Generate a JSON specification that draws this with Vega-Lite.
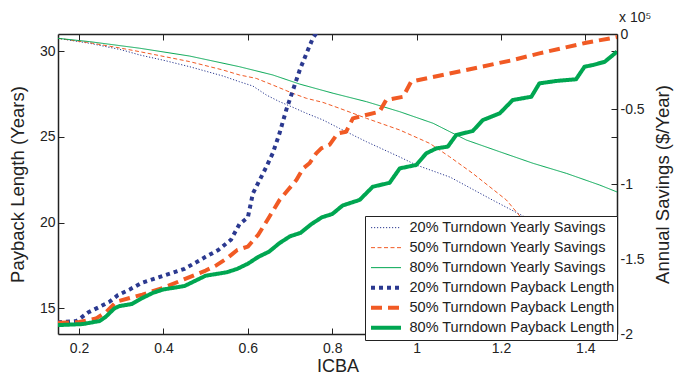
{
  "$schema": "https://vega.github.io/schema/vega-lite/v6.json",
  "width": 559,
  "height": 300,
  "autosize": {"type": "none"},
  "padding": {"left": 58, "top": 34, "right": 58, "bottom": 42},
  "background": "white",
  "config": {
    "font": "Liberation Sans",
    "view": {"stroke": null},
    "axis": {
      "grid": false,
      "domainColor": "#222222",
      "domainWidth": 1.5,
      "tickColor": "#222222",
      "tickWidth": 1,
      "tickSize": -6,
      "labelFont": "Liberation Sans",
      "labelFontSize": 14,
      "labelColor": "#222222",
      "labelPadding": 9,
      "titleFont": "Liberation Sans",
      "titleFontSize": 18.5,
      "titleFontWeight": "normal",
      "titleColor": "#222222"
    }
  },
  "title": {
    "text": "x 10⁵",
    "orient": "top",
    "anchor": "start",
    "frame": "group",
    "align": "left",
    "dx": 561,
    "offset": -18,
    "baseline": "alphabetic",
    "font": "Liberation Sans",
    "fontSize": 14,
    "fontWeight": "normal",
    "color": "#222222"
  },
  "datasets": {
    "savings": [
      {"series": "20% Turndown Yearly Savings", "icba": 0.15, "savings": -2900},
      {"series": "20% Turndown Yearly Savings", "icba": 0.225, "savings": -6200},
      {"series": "20% Turndown Yearly Savings", "icba": 0.3, "savings": -10500},
      {"series": "20% Turndown Yearly Savings", "icba": 0.344, "savings": -14000},
      {"series": "20% Turndown Yearly Savings", "icba": 0.4, "savings": -17500},
      {"series": "20% Turndown Yearly Savings", "icba": 0.462, "savings": -21800},
      {"series": "20% Turndown Yearly Savings", "icba": 0.541, "savings": -28000},
      {"series": "20% Turndown Yearly Savings", "icba": 0.58, "savings": -31800},
      {"series": "20% Turndown Yearly Savings", "icba": 0.612, "savings": -34700},
      {"series": "20% Turndown Yearly Savings", "icba": 0.644, "savings": -40700},
      {"series": "20% Turndown Yearly Savings", "icba": 0.675, "savings": -45100},
      {"series": "20% Turndown Yearly Savings", "icba": 0.707, "savings": -48900},
      {"series": "20% Turndown Yearly Savings", "icba": 0.739, "savings": -52900},
      {"series": "20% Turndown Yearly Savings", "icba": 0.778, "savings": -57300},
      {"series": "20% Turndown Yearly Savings", "icba": 0.817, "savings": -62900},
      {"series": "20% Turndown Yearly Savings", "icba": 0.881, "savings": -71800},
      {"series": "20% Turndown Yearly Savings", "icba": 0.96, "savings": -82000},
      {"series": "20% Turndown Yearly Savings", "icba": 0.999, "savings": -87300},
      {"series": "20% Turndown Yearly Savings", "icba": 1.08, "savings": -95500},
      {"series": "20% Turndown Yearly Savings", "icba": 1.18, "savings": -110700},
      {"series": "20% Turndown Yearly Savings", "icba": 1.25, "savings": -121000},
      {"series": "20% Turndown Yearly Savings", "icba": 1.35, "savings": -137000},
      {"series": "20% Turndown Yearly Savings", "icba": 1.475, "savings": -158000},
      {"series": "50% Turndown Yearly Savings", "icba": 0.15, "savings": -2900},
      {"series": "50% Turndown Yearly Savings", "icba": 0.225, "savings": -5800},
      {"series": "50% Turndown Yearly Savings", "icba": 0.3, "savings": -9500},
      {"series": "50% Turndown Yearly Savings", "icba": 0.344, "savings": -11800},
      {"series": "50% Turndown Yearly Savings", "icba": 0.462, "savings": -18400},
      {"series": "50% Turndown Yearly Savings", "icba": 0.541, "savings": -24000},
      {"series": "50% Turndown Yearly Savings", "icba": 0.58, "savings": -27300},
      {"series": "50% Turndown Yearly Savings", "icba": 0.62, "savings": -29600},
      {"series": "50% Turndown Yearly Savings", "icba": 0.659, "savings": -34000},
      {"series": "50% Turndown Yearly Savings", "icba": 0.707, "savings": -39600},
      {"series": "50% Turndown Yearly Savings", "icba": 0.739, "savings": -42900},
      {"series": "50% Turndown Yearly Savings", "icba": 0.778, "savings": -45600},
      {"series": "50% Turndown Yearly Savings", "icba": 0.817, "savings": -49500},
      {"series": "50% Turndown Yearly Savings", "icba": 0.881, "savings": -56200},
      {"series": "50% Turndown Yearly Savings", "icba": 0.96, "savings": -64000},
      {"series": "50% Turndown Yearly Savings", "icba": 1.031, "savings": -72900},
      {"series": "50% Turndown Yearly Savings", "icba": 1.078, "savings": -81800},
      {"series": "50% Turndown Yearly Savings", "icba": 1.133, "savings": -92900},
      {"series": "50% Turndown Yearly Savings", "icba": 1.213, "savings": -110700},
      {"series": "50% Turndown Yearly Savings", "icba": 1.3, "savings": -140000},
      {"series": "50% Turndown Yearly Savings", "icba": 1.4, "savings": -170000},
      {"series": "50% Turndown Yearly Savings", "icba": 1.475, "savings": -190000},
      {"series": "80% Turndown Yearly Savings", "icba": 0.15, "savings": -2900},
      {"series": "80% Turndown Yearly Savings", "icba": 0.225, "savings": -5100},
      {"series": "80% Turndown Yearly Savings", "icba": 0.344, "savings": -9500},
      {"series": "80% Turndown Yearly Savings", "icba": 0.462, "savings": -14700},
      {"series": "80% Turndown Yearly Savings", "icba": 0.58, "savings": -21800},
      {"series": "80% Turndown Yearly Savings", "icba": 0.659, "savings": -27300},
      {"series": "80% Turndown Yearly Savings", "icba": 0.723, "savings": -33400},
      {"series": "80% Turndown Yearly Savings", "icba": 0.802, "savings": -39500},
      {"series": "80% Turndown Yearly Savings", "icba": 0.881, "savings": -45100},
      {"series": "80% Turndown Yearly Savings", "icba": 0.96, "savings": -51800},
      {"series": "80% Turndown Yearly Savings", "icba": 1.039, "savings": -59500},
      {"series": "80% Turndown Yearly Savings", "icba": 1.118, "savings": -70700},
      {"series": "80% Turndown Yearly Savings", "icba": 1.197, "savings": -78500},
      {"series": "80% Turndown Yearly Savings", "icba": 1.276, "savings": -86200},
      {"series": "80% Turndown Yearly Savings", "icba": 1.355, "savings": -92900},
      {"series": "80% Turndown Yearly Savings", "icba": 1.434, "savings": -100700},
      {"series": "80% Turndown Yearly Savings", "icba": 1.475, "savings": -105300}
    ],
    "payback": [
      {"series": "20% Turndown Payback Length", "icba": 0.15, "years": 14.18},
      {"series": "20% Turndown Payback Length", "icba": 0.194, "years": 14.26},
      {"series": "20% Turndown Payback Length", "icba": 0.221, "years": 14.75},
      {"series": "20% Turndown Payback Length", "icba": 0.249, "years": 15.09},
      {"series": "20% Turndown Payback Length", "icba": 0.272, "years": 15.38},
      {"series": "20% Turndown Payback Length", "icba": 0.292, "years": 15.77},
      {"series": "20% Turndown Payback Length", "icba": 0.32, "years": 16.1},
      {"series": "20% Turndown Payback Length", "icba": 0.35, "years": 16.5},
      {"series": "20% Turndown Payback Length", "icba": 0.4, "years": 16.9},
      {"series": "20% Turndown Payback Length", "icba": 0.45, "years": 17.3},
      {"series": "20% Turndown Payback Length", "icba": 0.5, "years": 18.0},
      {"series": "20% Turndown Payback Length", "icba": 0.53, "years": 18.4},
      {"series": "20% Turndown Payback Length", "icba": 0.56, "years": 19.0},
      {"series": "20% Turndown Payback Length", "icba": 0.58, "years": 19.9},
      {"series": "20% Turndown Payback Length", "icba": 0.6, "years": 20.3},
      {"series": "20% Turndown Payback Length", "icba": 0.612, "years": 21.7},
      {"series": "20% Turndown Payback Length", "icba": 0.628, "years": 22.48},
      {"series": "20% Turndown Payback Length", "icba": 0.644, "years": 23.26},
      {"series": "20% Turndown Payback Length", "icba": 0.659, "years": 24.04},
      {"series": "20% Turndown Payback Length", "icba": 0.675, "years": 25.2},
      {"series": "20% Turndown Payback Length", "icba": 0.691, "years": 26.57},
      {"series": "20% Turndown Payback Length", "icba": 0.707, "years": 27.73},
      {"series": "20% Turndown Payback Length", "icba": 0.723, "years": 28.9},
      {"series": "20% Turndown Payback Length", "icba": 0.739, "years": 29.87},
      {"series": "20% Turndown Payback Length", "icba": 0.754, "years": 30.75},
      {"series": "20% Turndown Payback Length", "icba": 0.762, "years": 31.04},
      {"series": "20% Turndown Payback Length", "icba": 0.775, "years": 31.8},
      {"series": "50% Turndown Payback Length", "icba": 0.15, "years": 14.15},
      {"series": "50% Turndown Payback Length", "icba": 0.2, "years": 14.2},
      {"series": "50% Turndown Payback Length", "icba": 0.24, "years": 14.4},
      {"series": "50% Turndown Payback Length", "icba": 0.265, "years": 14.8},
      {"series": "50% Turndown Payback Length", "icba": 0.288, "years": 15.38},
      {"series": "50% Turndown Payback Length", "icba": 0.32, "years": 15.6},
      {"series": "50% Turndown Payback Length", "icba": 0.35, "years": 15.8},
      {"series": "50% Turndown Payback Length", "icba": 0.4, "years": 16.2},
      {"series": "50% Turndown Payback Length", "icba": 0.45, "years": 16.7},
      {"series": "50% Turndown Payback Length", "icba": 0.5, "years": 17.2},
      {"series": "50% Turndown Payback Length", "icba": 0.525, "years": 17.5},
      {"series": "50% Turndown Payback Length", "icba": 0.55, "years": 17.9},
      {"series": "50% Turndown Payback Length", "icba": 0.575, "years": 18.4},
      {"series": "50% Turndown Payback Length", "icba": 0.6, "years": 18.6},
      {"series": "50% Turndown Payback Length", "icba": 0.625, "years": 19.3},
      {"series": "50% Turndown Payback Length", "icba": 0.65, "years": 20.3},
      {"series": "50% Turndown Payback Length", "icba": 0.675, "years": 21.31},
      {"series": "50% Turndown Payback Length", "icba": 0.695, "years": 21.9},
      {"series": "50% Turndown Payback Length", "icba": 0.715, "years": 22.48},
      {"series": "50% Turndown Payback Length", "icba": 0.731, "years": 23.16},
      {"series": "50% Turndown Payback Length", "icba": 0.746, "years": 23.46},
      {"series": "50% Turndown Payback Length", "icba": 0.762, "years": 24.04},
      {"series": "50% Turndown Payback Length", "icba": 0.774, "years": 24.33},
      {"series": "50% Turndown Payback Length", "icba": 0.794, "years": 24.55},
      {"series": "50% Turndown Payback Length", "icba": 0.813, "years": 25.2},
      {"series": "50% Turndown Payback Length", "icba": 0.833, "years": 25.3},
      {"series": "50% Turndown Payback Length", "icba": 0.849, "years": 26.08},
      {"series": "50% Turndown Payback Length", "icba": 0.912, "years": 26.47},
      {"series": "50% Turndown Payback Length", "icba": 0.928, "years": 27.15},
      {"series": "50% Turndown Payback Length", "icba": 0.968, "years": 27.34},
      {"series": "50% Turndown Payback Length", "icba": 0.987, "years": 28.22},
      {"series": "50% Turndown Payback Length", "icba": 1.031, "years": 28.45},
      {"series": "50% Turndown Payback Length", "icba": 1.118, "years": 28.9},
      {"series": "50% Turndown Payback Length", "icba": 1.228, "years": 29.48},
      {"series": "50% Turndown Payback Length", "icba": 1.291, "years": 29.87},
      {"series": "50% Turndown Payback Length", "icba": 1.402, "years": 30.49},
      {"series": "50% Turndown Payback Length", "icba": 1.475, "years": 30.82},
      {"series": "80% Turndown Payback Length", "icba": 0.15, "years": 14.02},
      {"series": "80% Turndown Payback Length", "icba": 0.209, "years": 14.08},
      {"series": "80% Turndown Payback Length", "icba": 0.249, "years": 14.26},
      {"series": "80% Turndown Payback Length", "icba": 0.263, "years": 14.5},
      {"series": "80% Turndown Payback Length", "icba": 0.284, "years": 15.0},
      {"series": "80% Turndown Payback Length", "icba": 0.296, "years": 15.13},
      {"series": "80% Turndown Payback Length", "icba": 0.325, "years": 15.25},
      {"series": "80% Turndown Payback Length", "icba": 0.35, "years": 15.6},
      {"series": "80% Turndown Payback Length", "icba": 0.375, "years": 15.9},
      {"series": "80% Turndown Payback Length", "icba": 0.4, "years": 16.1},
      {"series": "80% Turndown Payback Length", "icba": 0.45, "years": 16.3},
      {"series": "80% Turndown Payback Length", "icba": 0.475, "years": 16.6},
      {"series": "80% Turndown Payback Length", "icba": 0.5, "years": 16.9},
      {"series": "80% Turndown Payback Length", "icba": 0.55, "years": 17.1},
      {"series": "80% Turndown Payback Length", "icba": 0.575, "years": 17.3},
      {"series": "80% Turndown Payback Length", "icba": 0.6, "years": 17.6},
      {"series": "80% Turndown Payback Length", "icba": 0.625, "years": 18.0},
      {"series": "80% Turndown Payback Length", "icba": 0.65, "years": 18.3},
      {"series": "80% Turndown Payback Length", "icba": 0.675, "years": 18.8},
      {"series": "80% Turndown Payback Length", "icba": 0.7, "years": 19.2},
      {"series": "80% Turndown Payback Length", "icba": 0.725, "years": 19.4},
      {"series": "80% Turndown Payback Length", "icba": 0.75, "years": 19.9},
      {"series": "80% Turndown Payback Length", "icba": 0.775, "years": 20.3},
      {"series": "80% Turndown Payback Length", "icba": 0.8, "years": 20.5},
      {"series": "80% Turndown Payback Length", "icba": 0.825, "years": 21.0},
      {"series": "80% Turndown Payback Length", "icba": 0.865, "years": 21.32},
      {"series": "80% Turndown Payback Length", "icba": 0.896, "years": 22.09},
      {"series": "80% Turndown Payback Length", "icba": 0.936, "years": 22.32},
      {"series": "80% Turndown Payback Length", "icba": 0.96, "years": 23.16},
      {"series": "80% Turndown Payback Length", "icba": 0.999, "years": 23.36},
      {"series": "80% Turndown Payback Length", "icba": 1.023, "years": 24.04},
      {"series": "80% Turndown Payback Length", "icba": 1.047, "years": 24.33},
      {"series": "80% Turndown Payback Length", "icba": 1.074, "years": 24.43},
      {"series": "80% Turndown Payback Length", "icba": 1.094, "years": 25.11},
      {"series": "80% Turndown Payback Length", "icba": 1.133, "years": 25.34},
      {"series": "80% Turndown Payback Length", "icba": 1.157, "years": 25.98},
      {"series": "80% Turndown Payback Length", "icba": 1.197, "years": 26.37},
      {"series": "80% Turndown Payback Length", "icba": 1.228, "years": 27.15},
      {"series": "80% Turndown Payback Length", "icba": 1.272, "years": 27.34},
      {"series": "80% Turndown Payback Length", "icba": 1.291, "years": 28.12},
      {"series": "80% Turndown Payback Length", "icba": 1.331, "years": 28.26},
      {"series": "80% Turndown Payback Length", "icba": 1.378, "years": 28.36},
      {"series": "80% Turndown Payback Length", "icba": 1.398, "years": 29.09},
      {"series": "80% Turndown Payback Length", "icba": 1.418, "years": 29.19},
      {"series": "80% Turndown Payback Length", "icba": 1.446, "years": 29.38},
      {"series": "80% Turndown Payback Length", "icba": 1.475, "years": 29.97}
    ]
  },
  "layer": [
    {
      "data": {"name": "savings"},
      "mark": {"type": "line", "clip": true, "strokeJoin": "round", "strokeWidth": 1},
      "encoding": {
        "x": {
          "field": "icba",
          "type": "quantitative",
          "scale": {"domain": [0.15, 1.475], "nice": false, "zero": false},
          "axis": {"orient": "top", "labels": false, "title": null, "values": [0.2, 0.4, 0.6, 0.8, 1, 1.2, 1.4]}
        },
        "y": {
          "field": "savings",
          "type": "quantitative",
          "scale": {"domain": [-200000, 0], "nice": false, "zero": false},
          "axis": {
            "orient": "right",
            "values": [-200000, -150000, -100000, -50000, 0],
            "labelExpr": "'' + datum.value / 100000",
            "title": "Annual Savings ($/Year)",
            "titleAngle": -90,
            "titleBaseline": "top",
            "titlePadding": 9
          }
        },
        "color": {
          "field": "series",
          "type": "nominal",
          "scale": {
            "domain": ["20% Turndown Yearly Savings", "50% Turndown Yearly Savings", "80% Turndown Yearly Savings", "20% Turndown Payback Length", "50% Turndown Payback Length", "80% Turndown Payback Length"],
            "range": ["#2B3990", "#F15A24", "#00A651", "#2B3990", "#F15A24", "#00A651"]
          },
          "legend": {
            "orient": "none",
            "legendX": 307,
            "legendY": 182,
            "title": null,
            "symbolType": "stroke",
            "symbolSize": 900,
            "symbolOffset": 3.5,
            "clipHeight": 19.3,
            "labelFont": "Liberation Sans",
            "labelFontSize": 14.5,
            "labelColor": "#222222",
            "labelLimit": 400,
            "labelOffset": 8,
            "fillColor": "white",
            "strokeColor": "#222222",
            "padding": 2,
            "rowPadding": 0,
            "cornerRadius": 0,
            "encode": {
              "symbols": {
                "update": {
                  "strokeWidth": {"signal": "(datum.index >= 3 ? 4 : 1)"}
                }
              }
            }
          }
        },
        "strokeDash": {
          "field": "series",
          "type": "nominal",
          "scale": {
            "domain": ["20% Turndown Yearly Savings", "50% Turndown Yearly Savings", "80% Turndown Yearly Savings", "20% Turndown Payback Length", "50% Turndown Payback Length", "80% Turndown Payback Length"],
            "range": [[1.2, 1.8], [4, 2.5], [1, 0], [4, 4], [11, 6], [1, 0]]
          }
        }
      }
    },
    {
      "data": {"name": "payback"},
      "encoding": {
        "x": {
          "field": "icba",
          "type": "quantitative",
          "scale": {"domain": [0.15, 1.475], "nice": false, "zero": false},
          "axis": {"orient": "bottom", "format": "~g", "values": [0.2, 0.4, 0.6, 0.8, 1, 1.2, 1.4], "title": "ICBA", "labelPadding": 13, "titlePadding": 2, "titleFontSize": 18}
        }
      },
      "layer": [
        {
          "mark": {"type": "line", "clip": true, "strokeJoin": "round", "strokeWidth": 4},
          "encoding": {
            "y": {
              "field": "years",
              "type": "quantitative",
              "scale": {"domain": [13.5, 31], "nice": false, "zero": false},
              "axis": {"orient": "left", "values": [15, 20, 25, 30], "title": "Payback Length (Years)", "titlePadding": 12}
            },
            "color": {"field": "series", "type": "nominal"},
            "strokeDash": {"field": "series", "type": "nominal"}
          }
        },
        {
          "mark": {"type": "point", "opacity": 0},
          "encoding": {
            "y": {
              "field": "years",
              "type": "quantitative",
              "axis": {"orient": "right", "labels": false, "title": null, "domain": false, "values": [15, 20, 25, 30]}
            }
          }
        }
      ],
      "resolve": {"axis": {"y": "independent"}}
    }
  ],
  "resolve": {"scale": {"y": "independent"}, "axis": {"x": "independent"}}
}
